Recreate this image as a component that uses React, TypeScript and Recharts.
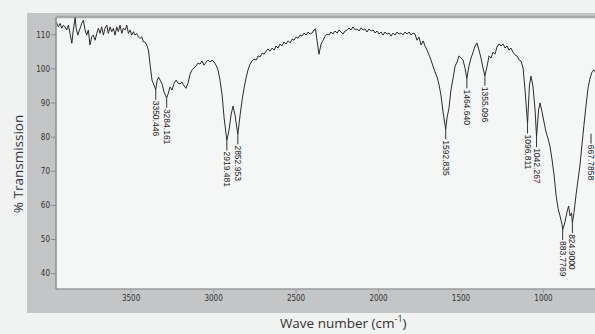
import React from 'react';
import { ComposedChart, Line, Scatter, XAxis, YAxis, CartesianGrid, ReferenceLine } from 'recharts';

// IR spectrum (wave number in cm-1, % transmission)
const wavenumbers = [
  3955, 3941, 3930, 3920, 3910, 3900, 3890, 3880, 3870, 3859, 3850, 3839, 3833, 3823, 3809, 3799,
  3789, 3779, 3769, 3759, 3749, 3738, 3729, 3718, 3708, 3698, 3688, 3678, 3668, 3658, 3647, 3638,
  3627, 3617, 3607, 3597, 3587, 3577, 3567, 3556, 3547, 3536, 3526, 3516, 3506, 3496, 3486, 3476,
  3466, 3456, 3446, 3435, 3425, 3415, 3405, 3395, 3385, 3373, 3350.446, 3342, 3333, 3324, 3312, 3300,
  3284.161, 3276, 3264, 3252, 3239, 3227, 3215, 3203, 3191, 3179, 3167, 3155, 3142, 3130, 3118, 3106,
  3094, 3082, 3070, 3058, 3045, 3033, 3021, 3009, 2997, 2985, 2973, 2961, 2948, 2936, 2919.481, 2906,
  2894, 2882, 2870, 2852.953, 2839, 2827, 2815, 2803, 2791, 2779, 2767, 2755, 2742, 2730, 2718, 2706,
  2694, 2682, 2670, 2658, 2645, 2633, 2621, 2609, 2597, 2585, 2573, 2561, 2548, 2536, 2524, 2512,
  2500, 2488, 2476, 2464, 2451, 2439, 2427, 2415, 2403, 2391, 2382, 2373, 2361, 2348, 2336, 2324,
  2312, 2300, 2288, 2276, 2264, 2251, 2239, 2227, 2215, 2203, 2191, 2179, 2167, 2155, 2142, 2130,
  2118, 2106, 2094, 2082, 2070, 2058, 2045, 2033, 2021, 2009, 1997, 1985, 1973, 1961, 1948, 1936,
  1924, 1912, 1900, 1888, 1876, 1864, 1852, 1839, 1827, 1815, 1803, 1791, 1779, 1767, 1755, 1742,
  1730, 1718, 1706, 1694, 1682, 1670, 1658, 1645, 1633, 1621, 1609, 1592.835, 1585, 1573, 1561, 1548,
  1536, 1524, 1512, 1500, 1488, 1476, 1464.64, 1452, 1439, 1427, 1415, 1403, 1391, 1379, 1367, 1355.096,
  1342, 1330, 1318, 1306, 1294, 1282, 1270, 1257, 1245, 1233, 1221, 1209, 1197, 1185, 1173, 1161,
  1148, 1136, 1124, 1112, 1096.811, 1085, 1076, 1064, 1051, 1042.267, 1030, 1021, 1009, 997, 985, 973,
  961, 948, 936, 924, 912, 900, 888, 883.7769, 870, 858, 848, 839, 830, 824.9, 815, 803,
  791, 779, 767, 755, 742, 730, 718, 706, 694, 680,
];

const transmission = [
  113.8, 112.3, 113.3, 111.9, 112.8, 112.3, 111.4, 112.8, 110.4, 107.5, 111.4, 115.0, 112.0, 109.9, 111.9, 113.3,
  114.3, 111.4, 109.9, 111.4, 107.0, 109.4, 109.9, 108.4, 110.4, 111.9, 110.4, 112.3, 109.9, 111.9, 112.8, 110.4,
  112.3, 110.9, 111.9, 109.9, 112.3, 110.9, 112.8, 110.4, 111.9, 111.4, 112.8, 110.4, 111.4, 109.9, 110.9, 109.9,
  110.4, 109.4, 108.9, 109.4, 107.9, 107.9, 107.0, 105.5, 101.4, 96.7, 93.9, 96.7, 97.6, 96.7, 95.6, 93.2,
  91.5, 92.6, 94.7, 93.8, 95.8, 96.7, 95.8, 95.6, 96.1, 95.0, 94.3, 95.8, 98.5, 99.7, 100.3, 100.8,
  101.7, 101.4, 102.3, 101.1, 102.0, 102.6, 102.0, 102.6, 102.0, 101.1, 99.7, 96.7, 92.3, 85.6, 79.0, 82.1,
  86.5, 89.1, 86.5, 80.8, 86.5, 90.9, 94.4, 97.3, 99.7, 101.4, 102.3, 102.9, 102.6, 103.8, 103.5, 104.6,
  104.3, 105.2, 105.8, 105.2, 106.1, 105.5, 106.7, 106.1, 107.3, 106.7, 107.9, 107.3, 108.2, 107.6, 108.7, 108.4,
  109.3, 109.0, 109.9, 109.6, 110.5, 109.9, 110.8, 110.2, 110.5, 111.4, 111.7, 108.4, 104.3, 107.3, 108.4, 109.6,
  110.2, 109.9, 110.8, 110.2, 111.1, 110.5, 111.4, 110.8, 110.2, 111.1, 111.4, 112.0, 111.4, 112.3, 111.4, 111.7,
  111.1, 112.0, 111.4, 111.7, 110.8, 111.7, 111.1, 111.4, 110.5, 111.1, 110.2, 110.8, 109.9, 110.8, 110.2, 110.5,
  109.6, 110.5, 109.9, 110.8, 110.2, 110.5, 109.9, 110.8, 110.2, 110.8, 109.9, 110.5, 110.2, 108.4, 109.3, 107.0,
  108.2, 106.7, 105.5, 104.1, 102.6, 100.8, 99.1, 97.6, 95.3, 92.1, 87.4, 82.3, 85.6, 88.5, 93.8, 97.3,
  100.8, 102.0, 103.8, 103.2, 102.6, 100.3, 97.2, 100.8, 103.2, 104.9, 106.7, 107.6, 105.5, 103.2, 100.3, 98.0,
  100.8, 103.8, 103.2, 104.9, 104.3, 106.4, 107.3, 106.7, 107.3, 106.1, 106.7, 105.5, 106.1, 104.9, 104.1, 103.8,
  102.6, 102.3, 100.3, 93.8, 84.0, 95.3, 97.9, 94.9, 87.9, 80.0, 87.9, 90.0, 87.4, 84.4, 81.5, 79.7,
  77.4, 73.3, 68.9, 63.0, 59.2, 56.9, 54.5, 52.8, 55.1, 58.0, 59.8, 56.9, 57.8, 54.8, 58.0, 63.0,
  67.4, 71.8, 77.7, 83.5, 89.4, 94.4, 97.3, 99.1, 99.7, 98.5,
];

// peak picks as printed on the spectrum
const peakWavenumbers = [3350.446, 3284.161, 2919.481, 2852.953, 1592.835, 1464.64, 1355.096, 1096.811, 1042.267, 883.7769, 824.9, 712];
const peakTransmission = [93.9, 91.5, 79.0, 80.8, 82.3, 97.2, 98.0, 84.0, 80.0, 52.8, 54.8, 81.0];
const peakLabels = ['3350.446', '3284.161', '2919.481', '2852.953', '1592.835', '1464.640', '1355.096', '1096.811', '1042.267', '883.7769', '824.9000', '667.7858'];

const xTicks = [3500, 3000, 2500, 2000, 1500, 1000];
const yTicks = [40, 50, 60, 70, 80, 90, 100, 110];

const spectrum = wavenumbers.map((wn, i) => ({ wn, t: transmission[i] }));
const peaks = peakWavenumbers.map((wn, i) => ({ wn, t: peakTransmission[i], label: peakLabels[i] }));

const tickFont = "'Liberation Sans Narrow', 'DejaVu Sans Condensed', Arial, sans-serif";
const titleFont = "'Open Sans', 'Noto Sans', sans-serif";

const PeakMarker = (props: any) => {
  const { cx, cy, payload } = props;
  if (cx == null || cy == null) return null;
  return (
    <g>
      <line x1={cx} y1={cy} x2={cx} y2={cy + 10} stroke="#333" strokeWidth={1} />
      <text
        transform={`translate(${cx},${cy + 11}) rotate(90)`}
        fontSize={8.5}
        fontFamily="'Liberation Sans', Arial, sans-serif"
        fill="#222"
        dominantBaseline="central"
      >
        {payload.label}
      </text>
    </g>
  );
};

const XTitle = (props: any) => {
  const vb = props.viewBox;
  return (
    <text x={vb.x + vb.width / 2 - 6} y={vb.y + 39} textAnchor="middle" fontSize={13.5} fontFamily={titleFont} fill="#333">
      <tspan>Wave number (cm</tspan>
      <tspan fontSize={9} dy={-6}>-1</tspan>
      <tspan dy={6}>)</tspan>
    </text>
  );
};

const YTitle = (props: any) => {
  const vb = props.viewBox;
  const x = vb.x + 18;
  const y = vb.y + vb.height / 2 + 11;
  return (
    <text x={x} y={y} transform={`rotate(-90, ${x}, ${y})`} textAnchor="middle" dominantBaseline="central" fontSize={13.5} fontFamily={titleFont} fill="#333">
      % Transmission
    </text>
  );
};

export default function App() {
  return (
    <div style={{ position: 'fixed', left: 0, top: 0, width: 595, height: 334, overflow: 'hidden', background: '#f1f2f2' }}>
      <div style={{ position: 'absolute', left: 27, top: 13, width: 700, height: 300, background: '#c4c5c7' }} />
      <div style={{ position: 'absolute', left: 0, top: 0 }}>
        <ComposedChart width={660} height={334} margin={{ top: 17, right: 17.5, bottom: 0, left: 0 }}>
          <CartesianGrid horizontal={false} vertical={false} fill="#f5f6f6" stroke="none" />
          <XAxis
            dataKey="wn"
            type="number"
            domain={[400, 3955]}
            reversed
            allowDataOverflow
            ticks={xTicks}
            height={45}
            tickSize={4}
            tickMargin={2}
            axisLine={{ stroke: '#9a9b9d', strokeWidth: 1.5 }}
            tickLine={{ stroke: '#9a9b9d' }}
            tick={{ fontSize: 8, fill: '#333', fontFamily: tickFont }}
            label={{ content: XTitle }}
          />
          <YAxis
            dataKey="t"
            type="number"
            domain={[35.5, 115.2]}
            allowDataOverflow
            ticks={yTicks}
            width={56}
            tickSize={5}
            tickMargin={1}
            axisLine={{ stroke: '#8c8d8f', strokeWidth: 1.5 }}
            tickLine={{ stroke: '#8c8d8f' }}
            tick={{ fontSize: 8, fill: '#333', fontFamily: tickFont }}
            label={{ content: YTitle }}
          />
          <ReferenceLine y={115.2} stroke="#a8a9ab" strokeWidth={2.5} />
          <Line
            data={spectrum}
            dataKey="t"
            type="linear"
            stroke="#2b2b2b"
            strokeWidth={1}
            dot={false}
            isAnimationActive={false}
          />
          <Scatter data={peaks} dataKey="t" shape={PeakMarker} isAnimationActive={false} />
        </ComposedChart>
      </div>
    </div>
  );
}
